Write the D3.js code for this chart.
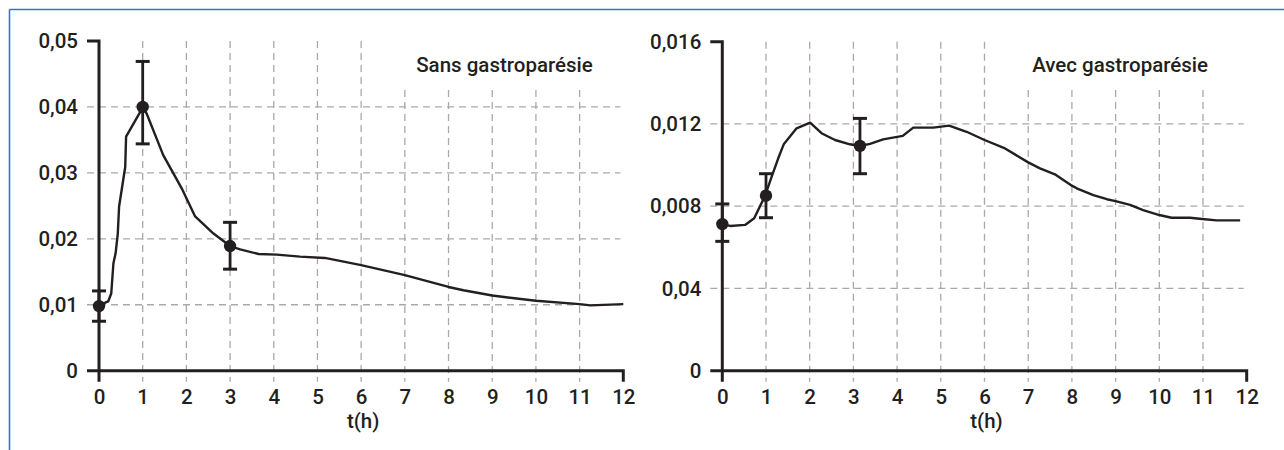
<!DOCTYPE html>
<html>
<head>
<meta charset="utf-8">
<script src="https://cdn.jsdelivr.net/npm/d3@7/dist/d3.min.js"></script>
<style>
  html, body { margin: 0; padding: 0; background: #fff; }
  svg { display: block; }
  text { font-family: Roboto, "Liberation Sans", Arial, sans-serif; font-weight: 500; fill: #231f20; }
</style>
</head>
<body>
<svg id="chart" width="1284" height="450"></svg>
<script>
// ---- data ----
const hourTicks = [0, 1, 2, 3, 4, 5, 6, 7, 8, 9, 10, 11, 12];

// left panel : Sans gastroparésie
const sansTitle = "Sans gastroparésie";
const sansYTicks = [0, 0.01, 0.02, 0.03, 0.04, 0.05];
const sansYLabels = ["0", "0,01", "0,02", "0,03", "0,04", "0,05"];
const sansCurveT = [0, 0.21, 0.28, 0.33, 0.38, 0.43, 0.46, 0.6, 0.62, 1.0, 1.09, 1.47, 1.89, 2.2, 2.62, 3.0, 3.23, 3.65, 4.07, 4.6, 5.17, 6.0, 7.0, 8.0, 8.34, 9.0, 10.0, 11.0, 11.25, 12.0];
const sansCurveC = [0.0099, 0.0105, 0.0117, 0.0163, 0.0178, 0.0208, 0.0249, 0.0309, 0.0355, 0.0399, 0.039, 0.0327, 0.0277, 0.0234, 0.0208, 0.0189, 0.0184, 0.0177, 0.0176, 0.0173, 0.0171, 0.016, 0.0145, 0.0127, 0.0122, 0.0114, 0.0106, 0.0101, 0.0099, 0.0101];
const sansPointT = [0, 1, 3];
const sansPointC = [0.0098, 0.04, 0.0189];
const sansPointLow = [0.0075, 0.0344, 0.0154];
const sansPointHigh = [0.0121, 0.0469, 0.0225];

// right panel : Avec gastroparésie
const avecTitle = "Avec gastroparésie";
const avecYTicks = [0, 0.004, 0.008, 0.012, 0.016];
const avecYLabels = ["0", "0,04", "0,008", "0,012", "0,016"];
const avecCurveT = [0, 0.18, 0.52, 0.73, 0.98, 1.13, 1.28, 1.41, 1.7, 2.01, 2.27, 2.58, 2.92, 3.15, 3.38, 3.68, 4.13, 4.37, 4.83, 5.19, 5.59, 6.0, 6.47, 7.0, 7.27, 7.61, 8.0, 8.11, 8.49, 8.8, 9.0, 9.33, 9.63, 10.0, 10.28, 10.7, 10.98, 11.31, 11.85];
const avecCurveC = [0.00713, 0.00704, 0.00709, 0.00741, 0.00851, 0.00944, 0.01033, 0.01103, 0.01179, 0.01206, 0.01155, 0.01122, 0.01101, 0.01093, 0.01103, 0.01125, 0.01142, 0.01182, 0.01182, 0.01192, 0.01162, 0.01122, 0.01081, 0.01013, 0.00984, 0.00955, 0.009, 0.00887, 0.00854, 0.00834, 0.00825, 0.00806, 0.00781, 0.00757, 0.00744, 0.00744, 0.00738, 0.00731, 0.00731];
const avecPointT = [0, 1, 3.15];
const avecPointC = [0.00713, 0.00851, 0.01093];
const avecPointLow = [0.00629, 0.00744, 0.00958];
const avecPointHigh = [0.00811, 0.00958, 0.01227];

const INK = "#231f20";
const GRID = "#a7a9ac";
const FONT = "Roboto, 'Liberation Sans', Arial, sans-serif";

const svg = d3.select("#chart");

// blue frame (top and left only)
svg.append("line").attr("x1", 9.5).attr("x2", 1284).attr("y1", 9.5).attr("y2", 9.5)
   .attr("stroke", "#2f78c4").attr("stroke-width", 1.6);
svg.append("line").attr("x1", 9.5).attr("x2", 9.5).attr("y1", 9.5).attr("y2", 450)
   .attr("stroke", "#2f78c4").attr("stroke-width", 1.6);

function drawPanel(p) {
    let x = d3.scaleLinear().domain([0, 12]).range(p.xRange);
    let y = d3.scaleLinear().domain([0, d3.max(p.yTicks)]).range(p.yRange);
    let g = svg.append("g");
    let y0 = y(0), yTop = y(d3.max(p.yTicks));
    let x0 = x(0), x12 = x(12);

    // vertical grid (shorter under the title)
    g.selectAll(".vgrid").data(hourTicks.filter(h => h > 0 && h < 12)).join("line")
        .attr("x1", d => x(d)).attr("x2", d => x(d))
        .attr("y1", d => d >= 7 ? 90 : yTop).attr("y2", y0 + 11)
        .attr("stroke", GRID).attr("stroke-width", 1.3).attr("stroke-dasharray", "7,5");

    // horizontal grid
    g.selectAll(".hgrid").data(p.yTicks.slice(1, -1)).join("line")
        .attr("x1", x0 - 12).attr("x2", x12 - 3)
        .attr("y1", d => y(d)).attr("y2", d => y(d))
        .attr("stroke", GRID).attr("stroke-width", 1.3).attr("stroke-dasharray", "7,5");

    // axis labels via d3 axes
    let xAxis = g.append("g").attr("transform", `translate(0,${y0})`)
        .call(d3.axisBottom(x).tickValues(hourTicks).tickSize(0).tickPadding(19).tickFormat(d => d));
    let yAxis = g.append("g").attr("transform", `translate(${x0},0)`)
        .call(d3.axisLeft(y).tickValues(p.yTicks).tickSize(0).tickPadding(21)
            .tickFormat((d, i) => p.yLabels[i]));
    [xAxis, yAxis].forEach(a => {
        a.select(".domain").remove();
        a.attr("font-family", FONT).attr("font-size", 20.5);
        a.selectAll("text").attr("fill", INK);
    });

    // axis lines and end ticks
    let axisPath = [
        [[x0 - 12, y0], [x12, y0], [x12, y0 + 11]],
        [[x0 - 12, yTop], [x0, yTop], [x0, y0 + 11]]
    ];
    g.selectAll(".axl").data(axisPath).join("path")
        .attr("d", d => d3.line()(d))
        .attr("fill", "none").attr("stroke", INK).attr("stroke-width", 3);

    // axis title
    g.append("text").attr("x", x(6) + 2).attr("y", 428).attr("text-anchor", "middle")
        .attr("font-size", 20.5).text("t(h)");

    // panel title
    g.append("text").attr("x", x(p.titleAt)).attr("y", 72)
        .attr("font-size", 20.5).text(p.title);

    // curve
    let curve = p.curveT.map((t, i) => ({t: t, c: p.curveC[i]}));
    g.append("path").datum(curve)
        .attr("d", d3.line().x(d => x(d.t)).y(d => y(d.c)))
        .attr("fill", "none").attr("stroke", INK).attr("stroke-width", 2.4)
        .attr("stroke-linejoin", "round");

    // measured points with error bars
    let pts = p.pointT.map((t, i) => ({t: t, c: p.pointC[i], lo: p.pointLow[i], hi: p.pointHigh[i]}));
    let eb = g.selectAll(".eb").data(pts).join("g");
    eb.append("line")
        .attr("x1", d => x(d.t)).attr("x2", d => x(d.t))
        .attr("y1", d => y(d.lo)).attr("y2", d => y(d.hi))
        .attr("stroke", INK).attr("stroke-width", 2.8);
    eb.selectAll(".cap").data(d => [[d.t, d.lo], [d.t, d.hi]]).join("line")
        .attr("x1", d => x(d[0]) - 7).attr("x2", d => x(d[0]) + 7)
        .attr("y1", d => y(d[1])).attr("y2", d => y(d[1]))
        .attr("stroke", INK).attr("stroke-width", 3);
    eb.append("circle")
        .attr("cx", d => x(d.t)).attr("cy", d => y(d.c)).attr("r", 6.2)
        .attr("fill", INK);
}

drawPanel({
    xRange: [99, 623.3], yRange: [370.7, 41],
    yTicks: sansYTicks, yLabels: sansYLabels,
    curveT: sansCurveT, curveC: sansCurveC,
    pointT: sansPointT, pointC: sansPointC, pointLow: sansPointLow, pointHigh: sansPointHigh,
    title: sansTitle, titleAt: 7.26
});

drawPanel({
    xRange: [722.3, 1246.7], yRange: [370.7, 41.7],
    yTicks: avecYTicks, yLabels: avecYLabels,
    curveT: avecCurveT, curveC: avecCurveC,
    pointT: avecPointT, pointC: avecPointC, pointLow: avecPointLow, pointHigh: avecPointHigh,
    title: avecTitle, titleAt: 7.09
});
</script>
</body>
</html>
